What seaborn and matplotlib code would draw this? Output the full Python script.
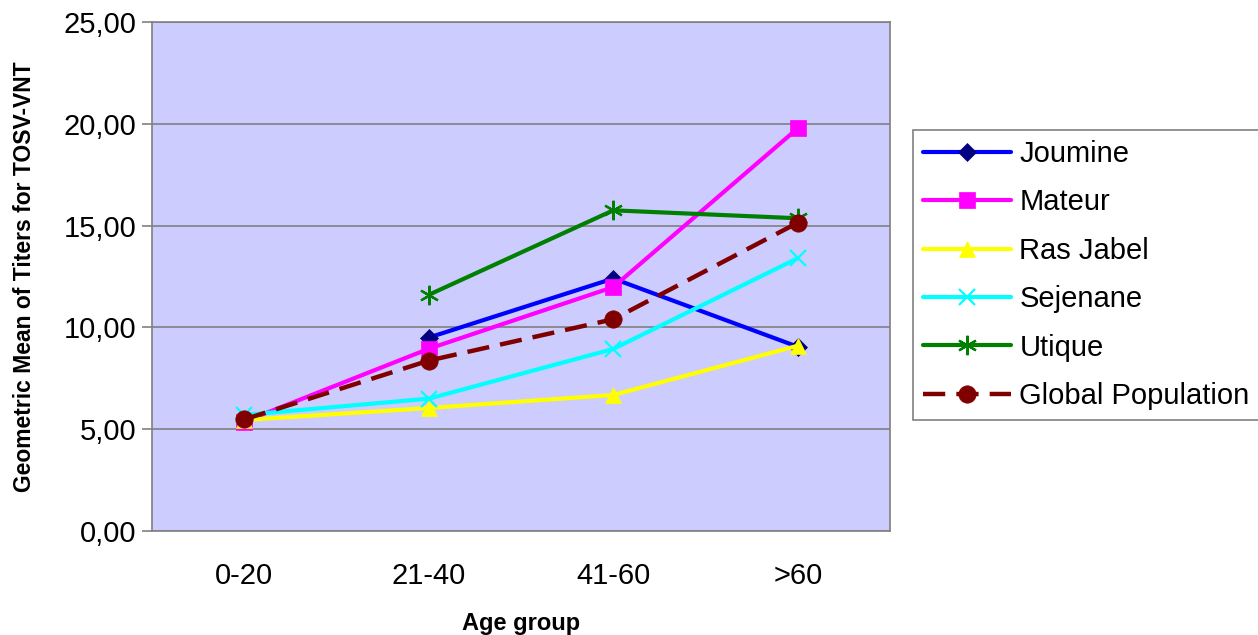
#importing the required packages
import numpy as np
import pandas as pd
import seaborn as sns
import matplotlib
matplotlib.use('Agg')
import matplotlib.pyplot as plt
from matplotlib.ticker import FuncFormatter

sns.set_style("white")
plt.rcParams['font.family'] = ['Liberation Sans', 'DejaVu Sans']
plt.rcParams['text.color'] = 'black'
plt.rcParams['xtick.color'] = 'black'
plt.rcParams['ytick.color'] = 'black'
plt.rcParams['axes.labelcolor'] = 'black'

#chart values
age_groups = ["0-20", "21-40", "41-60", ">60"]
joumine = [np.nan, 9.5, 12.4, 9.05]
mateur = [5.37, 8.95, 11.98, 19.78]
ras_jabel = [5.45, 6.04, 6.68, 9.1]
sejenane = [5.7, 6.5, 8.94, 13.4]
utique = [np.nan, 11.6, 15.75, 15.36]
global_pop = [5.48, 8.37, 10.4, 15.14]

positions = np.arange(len(age_groups))

#series styles: name, values, line colour, marker, marker colour
series = [
    ("Joumine", joumine, "#0000FF", "D", "#000080"),
    ("Mateur", mateur, "#FF00FF", "s", "#FF00FF"),
    ("Ras Jabel", ras_jabel, "#FFFF00", "^", "#FFFF00"),
    ("Sejenane", sejenane, "#00FFFF", "x", "#00FFFF"),
    ("Utique", utique, "#008000", (6, 2, 0), "#008000"),
    ("Global Population", global_pop, "#800000", "o", "#800000"),
]

fig = plt.figure(figsize=(12.58, 6.35), dpi=100)
ax = fig.add_axes([152 / 1258, 104 / 635, 738 / 1258, 509 / 635])
ax.set_facecolor("#CCCCFF")

for name, vals, col, mk, mcol in series:
    df = pd.DataFrame({"x": positions, "y": vals}).dropna()
    sz = {"D": 9.5, "s": 11.5, "^": 11.5, "x": 12, "o": 12.5}.get(mk, 14)
    sns.lineplot(data=df, x="x", y="y", ax=ax, color=col, linewidth=3.0,
                 marker=mk, markersize=sz, markerfacecolor=mcol,
                 markeredgecolor=mcol, markeredgewidth=1.6 if mk in ("x", (6, 2, 0)) else 0.5,
                 label=name)
    if name == "Global Population":
        ax.lines[-1].set_dashes((5, 2.5))
        ax.lines[-1].set_linewidth(3.2)

#axes limits and ticks
ax.set_ylim(0, 25)
ax.set_xlim(-0.5, 3.5)
ax.set_yticks([0, 5, 10, 15, 20, 25])
ax.yaxis.set_major_formatter(FuncFormatter(lambda v, p: f"{v:.2f}".replace(".", ",")))
ax.set_xticks(positions)
ax.set_xticklabels(age_groups)
ax.set_xticks(np.arange(-0.5, 3.6, 1), minor=True)
ax.tick_params(axis="x", which="major", length=0, pad=22, labelsize=21)
ax.tick_params(axis="x", which="minor", length=8, color="#808080", width=1.2)
ax.tick_params(axis="y", length=7, color="#808080", labelcolor="black", width=1.2,
               labelsize=21, pad=4, left=True)
ax.grid(axis="y", color="#808080", linewidth=1.2)
ax.set_axisbelow(True)
for sp in ax.spines.values():
    sp.set_color("#808080")
    sp.set_linewidth(1.2)

ax.set_xlabel("Age group", fontsize=17, fontweight="bold", labelpad=16)
ax.set_ylabel("Geometric Mean of Titers for TOSV-VNT", fontsize=16.5, fontweight="bold", labelpad=20)

#legend box on the right
h, l = ax.get_legend_handles_labels()
leg = ax.legend(h, l, loc="center left", bbox_to_anchor=(913 / 1258, 360 / 635),
                bbox_transform=fig.transFigure, fontsize=21, frameon=True,
                fancybox=False, edgecolor="#808080", framealpha=1,
                handlelength=3.0, handletextpad=0.3, labelspacing=0.7,
                borderpad=0.35, borderaxespad=0)
leg.get_frame().set_linewidth(1.2)

fig.savefig("out.png", dpi=100)
